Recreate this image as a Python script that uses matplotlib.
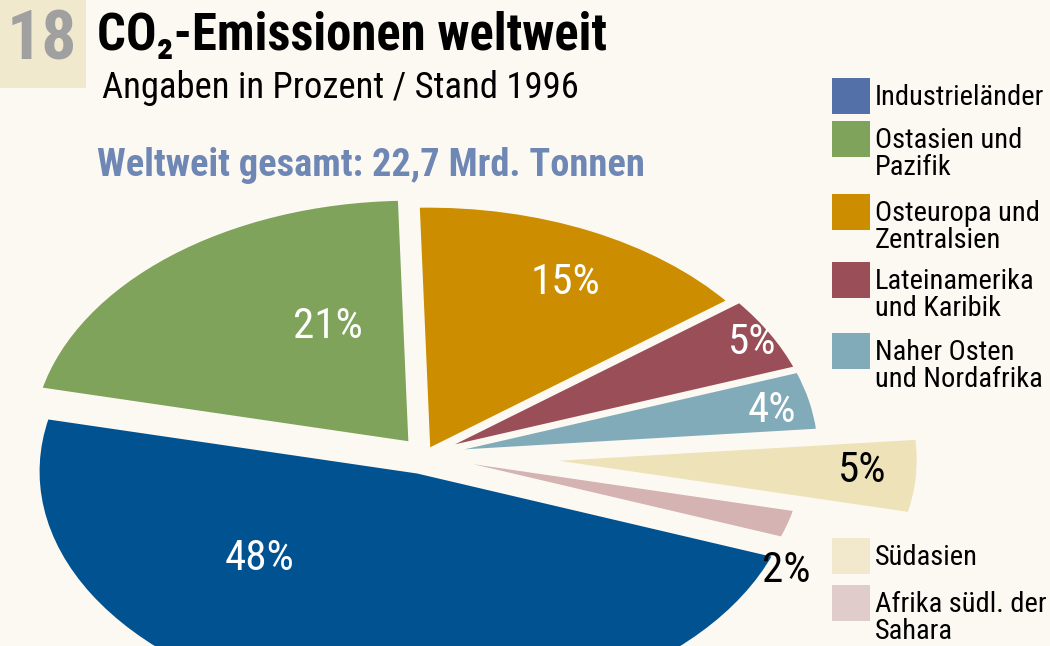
import matplotlib.pyplot as plt
from matplotlib import font_manager
from matplotlib.patches import Rectangle

# data
regions = ['Industrieländer', 'Ostasien und\nPazifik', 'Osteuropa und\nZentralsien',
           'Lateinamerika\nund Karibik', 'Naher Osten\nund Nordafrika', 'Südasien',
           'Afrika südl. der\nSahara']
shares = [48, 21, 15, 5, 4, 5, 2]
pct_labels = ['48%', '21%', '15%', '5%', '4%', '5%', '2%']
slice_colors = ['#005291', '#7fa35a', '#cc8d00', '#9a4e58', '#82abb9', '#ede2b8', '#d4b3b2']
legend_colors = ['#5470a8', '#7fa35a', '#cc8d00', '#9a4e58', '#82abb9', '#f2e9cc', '#e0cccb']
explode = [0.07, 0.06, 0.02, 0.04, 0.04, 0.30, 0.0]

bg = '#fcf9f3'
W, H = 1050, 646

# use a narrow face if one is installed, else shrink DejaVu
narrow = None
for name in ['Liberation Sans Narrow', 'DejaVu Sans Condensed', 'Roboto Condensed',
             'Open Sans Condensed']:
    try:
        font_manager.findfont(name, fallback_to_default=False)
        narrow = name
        break
    except ValueError:
        pass
fonts = [narrow, 'DejaVu Sans'] if narrow else ['DejaVu Sans']
sc = 1.0 if narrow else 0.72

fig = plt.figure(figsize=(10.5, 6.46), dpi=100, facecolor=bg)
ax = fig.add_axes([0, 0, 1, 1])
ax.set_facecolor(bg)

# pie centre in pixels, radius wide / high
cx, cy, rx, ry = 425, 455, 380, 245
ax.pie(shares, colors=slice_colors, explode=explode, startangle=-20,
       counterclock=False, radius=1,
       wedgeprops=dict(edgecolor=bg, linewidth=3))
ax.set_aspect('auto')
ax.set_xlim(-cx / rx, (W - cx) / rx)
ax.set_ylim(-(H - cy) / ry, cy / ry)
ax.axis('off')

def px(x, y):
    return x / W, 1 - y / H

# percent labels
label_pos = [(260, 558), (328, 327), (565, 283), (752, 342), (772, 410), (862, 470), (786, 570)]
label_col = ['white', 'white', 'white', 'white', 'white', 'black', 'black']
for t, (x, y), c in zip(pct_labels, label_pos, label_col):
    fig.text(*px(x, y), t, color=c, fontsize=31 * sc, family=fonts, ha='center', va='center')

# number box
fig.patches.append(Rectangle(px(0, 88), 86 / W, 88 / H, transform=fig.transFigure,
                             facecolor='#f1e9cd', edgecolor='none', zorder=0))
fig.text(*px(42, 41), '18', color='#a0a0a0', fontsize=50 * sc, fontweight='bold',
         family=fonts, ha='center', va='center')

# titles
fig.text(*px(97, 36), 'CO₂-Emissionen weltweit', fontsize=36.5 * sc, fontweight='bold',
         family=fonts, ha='left', va='center')
fig.text(*px(102, 88), 'Angaben in Prozent / Stand 1996', fontsize=26.4 * sc,
         family=fonts, ha='left', va='center')
fig.text(*px(97, 165), 'Weltweit gesamt: 22,7 Mrd. Tonnen', fontsize=27.6 * sc,
         fontweight='bold', color='#6f87b4', family=fonts, ha='left', va='center')

# legend
legend_top = [78, 121, 194, 262, 333, 538, 585]
for name, col, top in zip(regions, legend_colors, legend_top):
    fig.patches.append(Rectangle(px(832, top + 36), 38 / W, 36 / H, transform=fig.transFigure,
                                 facecolor=col, edgecolor='none'))
    fig.text(*px(875, top + 6), name, fontsize=20.5 * sc, family=fonts, ha='left',
             va='top', linespacing=1.0)

fig.savefig('out.png', dpi=100, facecolor=bg)
